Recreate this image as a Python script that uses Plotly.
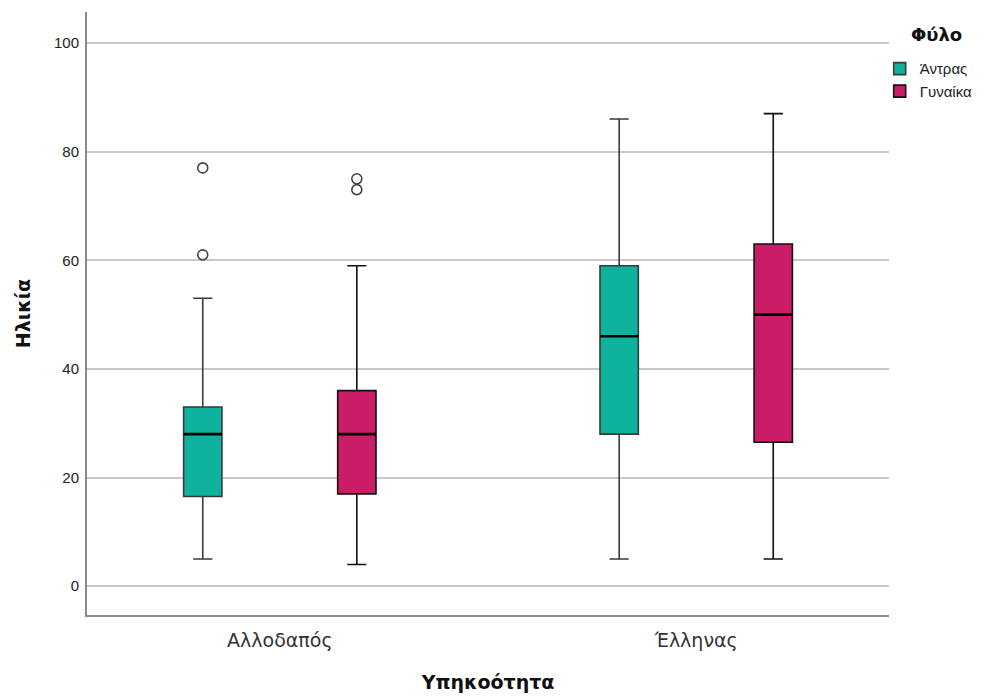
import plotly.graph_objects as go

# Age distribution by citizenship and sex (summary statistics per group)
categories = ["Αλλοδαπός", "Έλληνας"]
sexes = ["Άντρας", "Γυναίκα"]
colors = {"Άντρας": "#0EB29E", "Γυναίκα": "#CB1C68"}
whisker_colors = {"Άντρας": "#3a3a3a", "Γυναίκα": "#111111"}

lower = {"Άντρας": [5, 5], "Γυναίκα": [4, 5]}
q1 = {"Άντρας": [16.5, 28], "Γυναίκα": [17, 26.5]}
median = {"Άντρας": [28, 46], "Γυναίκα": [28, 50]}
q3 = {"Άντρας": [33, 59], "Γυναίκα": [36, 63]}
upper = {"Άντρας": [53, 86], "Γυναίκα": [59, 87]}
outliers = {"Άντρας": [[61, 77], []], "Γυναίκα": [[73, 75], []]}

offset = {"Άντρας": -0.185, "Γυναίκα": 0.185}
box_w = 0.092

fig = go.Figure()

for s in sexes:
    xs = [i + offset[s] for i in range(len(categories))]
    fig.add_trace(go.Box(
        name=s,
        x=xs,
        q1=q1[s], median=median[s], q3=q3[s],
        lowerfence=lower[s], upperfence=upper[s],
        width=box_w,
        whiskerwidth=0.5,
        fillcolor=colors[s],
        line=dict(color=whisker_colors[s], width=1.6),
        boxpoints=False,
        showlegend=True,
        hoverinfo="skip",
    ))

# Thick median bars drawn over each box
for s in sexes:
    mx, my = [], []
    for i in range(len(categories)):
        c = i + offset[s]
        mx += [c - box_w / 2, c + box_w / 2, None]
        my += [median[s][i], median[s][i], None]
    fig.add_trace(go.Scatter(x=mx, y=my, mode="lines",
                             line=dict(color="#000000", width=2.6),
                             showlegend=False, hoverinfo="skip"))

# Outlying values
for s in sexes:
    ox, oy = [], []
    for i in range(len(categories)):
        for v in outliers[s][i]:
            ox.append(i + offset[s])
            oy.append(v)
    if ox:
        fig.add_trace(go.Scatter(x=ox, y=oy, mode="markers",
                                 marker=dict(symbol="circle-open", size=10,
                                             color="#444444",
                                             line=dict(width=1.6)),
                                 showlegend=False, hoverinfo="skip"))

fig.update_layout(
    width=984, height=698,
    margin=dict(l=87, r=95, t=12, b=83, autoexpand=False),
    paper_bgcolor="white", plot_bgcolor="white",
    font=dict(family="DejaVu Sans, sans-serif", color="#333333"),
    showlegend=True,
    legend=dict(
        xref="container", yref="container",
        x=0.894, y=0.925, xanchor="left", yanchor="top",
        font=dict(family="Liberation Sans, Arial, sans-serif",
                  size=15, color="#222222"),
        itemwidth=30, tracegroupgap=0,
        bgcolor="rgba(0,0,0,0)",
    ),
    annotations=[dict(
        text="<b>Φύλο</b>", xref="paper", yref="paper",
        x=1.0, y=0.9635, xanchor="left", yanchor="middle", xshift=20,
        showarrow=False, font=dict(size=18, color="#111111"),
    )],
    xaxis=dict(
        range=[-0.463, 1.463],
        tickvals=list(range(len(categories))), ticktext=categories,
        tickfont=dict(size=19, color="#333333"),
        showgrid=False, zeroline=False,
        showline=True, linecolor="#8a8a8a", linewidth=2,
        ticks="", ticklabelstandoff=7,
        title=dict(text="<b>Υπηκοότητα</b>", font=dict(size=19, color="#111111"),
                   standoff=26),
    ),
    yaxis=dict(
        range=[-5.3, 105.7],
        tickvals=[0, 20, 40, 60, 80, 100],
        tickfont=dict(family="Liberation Sans, Arial, sans-serif",
                      size=15, color="#222222"),
        showgrid=True, gridcolor="#c8c8c8", gridwidth=1.6,
        zeroline=False,
        showline=True, linecolor="#8a8a8a", linewidth=2,
        ticks="", ticklabelstandoff=3,
        title=dict(text="<b>Ηλικία</b>", font=dict(size=19, color="#111111"),
                   standoff=18),
    ),
)

fig.write_html("out.html")
